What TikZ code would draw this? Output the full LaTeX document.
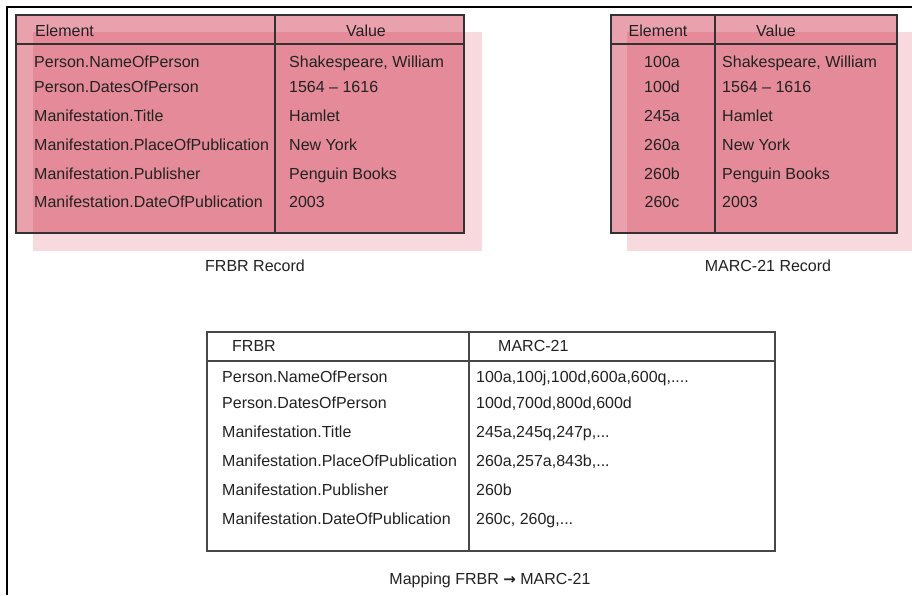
\documentclass[tikz,border=0pt]{standalone}
\usepackage{fontspec}
\setmainfont{Liberation Sans}
\newfontfamily\arrowfont{DejaVu Sans Bold}
\definecolor{shadowpink}{RGB}{248,218,222}
\definecolor{recordred}{RGB}{200,20,50}
\definecolor{inkgray}{RGB}{34,34,34}
\definecolor{rulegray}{RGB}{50,50,50}
\begin{document}
\begin{tikzpicture}[x=1pt,y=-1pt,
  txt/.style={inner sep=0pt, text=inkgray, font=\fontsize{16}{19}\selectfont},
  lft/.style={txt, anchor=base west},
  ctr/.style={txt, anchor=base},
  recordbox/.style={fill=recordred, fill opacity=0.4, draw=rulegray, draw opacity=1, line width=1.4pt},
  dropshadow/.style={fill=shadowpink},
  rule/.style={draw=rulegray, line width=1.4pt},
  mapbox/.style={draw=black!72, line width=1.6pt},
]
\useasboundingbox (0,0) rectangle (912,595);
\fill[white] (0,0) rectangle (912,595);
% page frame (left and top edges)
\draw[line width=1.5pt] (7,595) -- (7,7) -- (912,7);

% ---------------- FRBR record ----------------
\fill[dropshadow] (33,32) rectangle (482,251);
\draw[recordbox] (16,15) rectangle (464,233);
\draw[rule] (16,44) -- (464,44);
\draw[rule] (275,15) -- (275,233);
\node[lft] (frbrElem) at (35,36) {Element};
\node[ctr] (frbrVal) at (366,36) {Value};
\foreach \y/\e/\v [count=\i] in {
  67/Person.NameOfPerson/{Shakespeare, William},
  92/Person.DatesOfPerson/{1564 – 1616},
  121/Manifestation.Title/Hamlet,
  150/Manifestation.PlaceOfPublication/New York,
  179/Manifestation.Publisher/Penguin Books,
  207/Manifestation.DateOfPublication/2003} {
  \node[lft] (fe\i) at (34,\y) {\e};
  \node[lft] (fv\i) at (289,\y) {\v};
}
\node[ctr] (frbrCap) at (255,271) {FRBR Record};

% ---------------- MARC-21 record ----------------
\fill[dropshadow] (627,32) rectangle (912,251);
\draw[recordbox] (611,15) rectangle (897,233);
\draw[rule] (611,44) -- (897,44);
\draw[rule] (715,15) -- (715,233);
\node[ctr] (marcElem) at (658,36) {Element};
\node[ctr] (marcVal) at (776,36) {Value};
\foreach \y/\e/\v [count=\i] in {
  67/100a/{Shakespeare, William},
  92/100d/{1564 – 1616},
  121/245a/Hamlet,
  150/260a/New York,
  179/260b/Penguin Books,
  207/260c/2003} {
  \node[ctr] (me\i) at (662,\y) {\e};
  \node[lft] (mv\i) at (722,\y) {\v};
}
\node[ctr] (marcCap) at (768,271) {MARC-21 Record};

% ---------------- Mapping table ----------------
\draw[mapbox] (207,332) rectangle (775,551);
\draw[mapbox] (207,361) -- (775,361);
\draw[mapbox] (469,332) -- (469,551);
\node[lft] (mapFrbr) at (232,351) {FRBR};
\node[lft] (mapMarc) at (498,351) {MARC-21};
\foreach \y/\e/\v [count=\i] in {
  382/Person.NameOfPerson/{100a,100j,100d,600a,600q,....},
  408/Person.DatesOfPerson/{100d,700d,800d,600d},
  437/Manifestation.Title/{245a,245q,247p,...},
  466/Manifestation.PlaceOfPublication/{260a,257a,843b,...},
  495/Manifestation.Publisher/260b,
  524/Manifestation.DateOfPublication/{260c, 260g,...}} {
  \node[lft] (pe\i) at (222,\y) {\e};
  \node[lft] (pv\i) at (476,\y) {\v};
}
\node[ctr] (mapCap) at (490,584) {Mapping FRBR {\arrowfont\fontsize{15}{18}\selectfont →} MARC-21};
\end{tikzpicture}
\end{document}
